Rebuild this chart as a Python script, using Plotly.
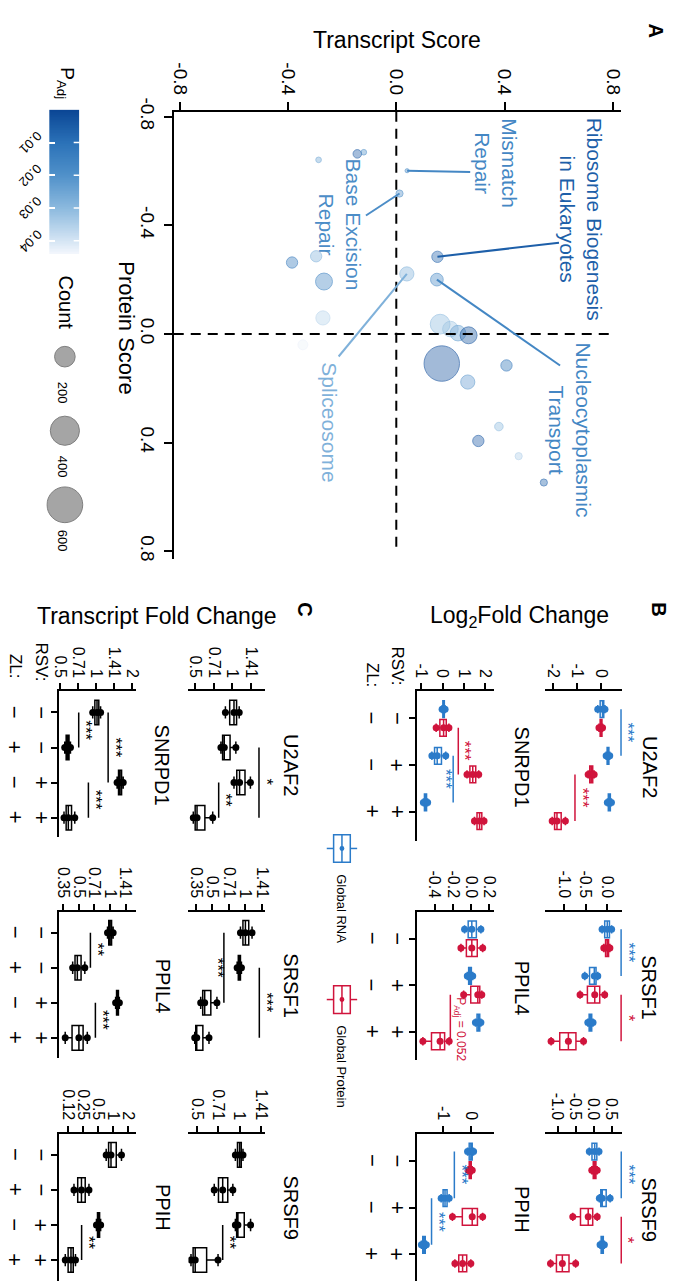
import numpy as np
import plotly.graph_objects as go

W, H = 678, 1283
FONT = "Liberation Sans, Arial, Helvetica, sans-serif"
BLUE = "#2b7bc9"
RED = "#d0143c"

# ---------------- Panel A: pathway scores ----------------
A_TRANSCRIPT = [-0.144, -0.120, -0.287, 0.040, 0.012, 0.152, -0.385, -0.296, 0.039, 0.150,
                -0.267, -0.271, 0.162, 0.200, 0.228, 0.267, -0.345, 0.168, 0.407, 0.264,
                0.379, 0.303, 0.452, 0.545]
A_PROTEIN = [-0.663, -0.669, -0.641, -0.601, -0.517, -0.284, -0.263, -0.286, -0.221, -0.200,
             -0.193, -0.059, -0.036, -0.018, -0.003, 0.005, 0.040, 0.109, 0.116, 0.177,
             0.341, 0.394, 0.450, 0.547]
A_PADJ = [0.004, 0.020, 0.025, 0.017, 0.019, 0.006, 0.012, 0.028, 0.028, 0.017,
          0.016, 0.036, 0.030, 0.032, 0.024, 0.003, 0.043, 0.002, 0.010, 0.022,
          0.030, 0.004, 0.035, 0.006]
A_COUNT = [34, 15, 15, 8, 24, 60, 60, 60, 94, 76,
           135, 94, 184, 114, 114, 135, 46, 590, 60, 94,
           34, 60, 24, 24]
A_AXIS_TICKS = [-0.8, -0.4, 0.0, 0.4, 0.8]
A_AXIS_TICKTEXT = ["-0.8", "-0.4", "0.0", "0.4", "0.8"]
A_LABEL_TEXT = ["Ribosome Biogenesis<br>in Eukaryotes", "Mismatch<br>Repair",
                "Base Excision<br>Repair", "Spliceosome", "Nucleocytoplasmic<br>Transport"]
A_LABEL_POINT = [5, 3, 4, 8, 9]
PADJ_TICKS = [0.01, 0.02, 0.03, 0.04]
COUNT_KEYS = [200, 400, 600]

# ---------------- Panel B: log2 fold change (3 replicates) ----------------
B_GENES = ["U2AF2", "SNRPD1", "SRSF1", "PPIL4", "SRSF9", "PPIH"]
B_RSV = ["−", "+", "+"]
B_ZL = ["−", "−", "+"]
U2AF2_RNA = [[-0.15, 0.05, 0.15], [0.20, 0.28, 0.35], [0.25, 0.33, 0.42]]
U2AF2_PROT = [[-0.10, 0.00, 0.05], [-0.55, -0.42, -0.30], [-2.05, -1.85, -1.50]]
SNRPD1_RNA = [[-0.02, 0.05, 0.12], [-0.50, -0.25, 0.15], [-0.90, -0.80, -0.70]]
SNRPD1_PROT = [[-0.30, 0.05, 0.30], [1.15, 1.42, 1.70], [1.50, 1.74, 1.95]]
SRSF1_RNA = [[-0.12, 0.00, 0.10], [-0.52, -0.30, -0.22], [-0.45, -0.39, -0.33]]
SRSF1_PROT = [[-0.08, 0.00, 0.06], [-0.63, -0.29, -0.06], [-1.30, -0.90, -0.55]]
PPIL4_RNA = [[-0.07, 0.01, 0.11], [-0.04, -0.01, 0.02], [0.05, 0.085, 0.11]]
PPIL4_PROT = [[-0.11, 0.01, 0.13], [-0.08, 0.076, 0.12], [-0.53, -0.34, -0.24]]
SRSF9_RNA = [[-0.12, 0.03, 0.15], [0.16, 0.24, 0.46], [0.18, 0.24, 0.30]]
SRSF9_PROT = [[-0.05, 0.03, 0.10], [-0.58, -0.15, 0.10], [-1.20, -0.87, -0.50]]
PPIH_RNA = [[-0.12, 0.00, 0.10], [-1.08, -0.94, -0.79], [-1.80, -1.70, -1.62]]
PPIH_PROT = [[-0.10, -0.02, 0.05], [-0.67, 0.05, 0.43], [-0.58, -0.30, 0.00]]
B_TICKS = [[-2, -1, 0], [-1, 0, 1, 2], [-1.0, -0.5, 0.0], [-0.4, -0.2, 0.0, 0.2],
           [-1.0, -0.5, 0.0, 0.5], [-1, 0]]
B_TICKTEXT = [["-2", "-1", "0"], ["-1", "0", "1", "2"], ["-1.0", "-0.5", "0.0"],
              ["-0.4", "-0.2", "0.0", "0.2"], ["-1.0", "-0.5", "0.0", "0.5"], ["-1", "0"]]
# (gene, series, from condition, to condition, label)
B_SIG = [("U2AF2", "rna", 1, 2, "***"), ("U2AF2", "prot", 2, 3, "***"),
         ("SNRPD1", "prot", 1, 2, "***"), ("SNRPD1", "rna", 2, 3, "***"),
         ("SRSF1", "rna", 1, 2, "***"), ("SRSF1", "prot", 2, 3, "*"),
         ("PPIL4", "prot", 2, 3, "P<sub>Adj</sub> = 0.052"),
         ("SRSF9", "rna", 1, 2, "***"), ("SRSF9", "prot", 2, 3, "*"),
         ("PPIH", "rna", 1, 2, "***"), ("PPIH", "rna", 2, 3, "***")]

# ---------------- Panel C: transcript fold change (log2, 3 replicates) ----------------
C_RSV = ["−", "−", "+", "+"]
C_ZL = ["−", "+", "−", "+"]
C_U2AF2 = [[-0.19, 0.04, 0.18], [-0.31, -0.22, 0.09], [0.04, 0.19, 0.48], [-1.05, -0.95, -0.53]]
C_SNRPD1 = [[-0.10, 0.02, 0.12], [-0.88, -0.80, -0.72], [0.58, 0.66, 0.75], [-0.90, -0.78, -0.60]]
C_SRSF1 = [[-0.15, 0.00, 0.20], [-0.25, -0.18, -0.12], [-1.35, -1.23, -0.86], [-1.53, -1.47, -1.10]]
C_PPIL4 = [[-0.08, 0.00, 0.10], [-1.20, -1.05, -0.81], [0.18, 0.24, 0.30], [-1.44, -1.00, -0.73]]
C_SRSF9 = [[-0.10, 0.00, 0.08], [-0.60, -0.40, -0.16], [-0.10, -0.04, 0.26], [-1.15, -1.05, -0.51]]
C_PPIH = [[-0.45, -0.13, 0.57], [-2.60, -2.10, -1.60], [-1.10, -0.96, -0.82], [-3.18, -2.80, -2.50]]
C_TICKS = [[-1, -0.5, 0, 0.5], [-1, -0.5, 0, 0.5, 1], [-1.5, -1, -0.5, 0, 0.5],
           [-1.5, -1, -0.5, 0, 0.5], [-1, -0.5, 0, 0.5], [-3, -2, -1, 0, 1]]
C_TICKTEXT = [["0.5", "0.71", "1", "1.41"], ["0.5", "0.71", "1", "1.41", "2"],
              ["0.35", "0.5", "0.71", "1", "1.41"], ["0.35", "0.5", "0.71", "1", "1.41"],
              ["0.5", "0.71", "1", "1.41"], ["0.12", "0.25", "0.5", "1", "2"]]
C_SIG = [("U2AF2", 3, 4, "**"), ("U2AF2", 2, 4, "*"),
         ("SNRPD1", 1, 2, "***"), ("SNRPD1", 1, 3, "***"), ("SNRPD1", 3, 4, "***"),
         ("SRSF1", 1, 3, "***"), ("SRSF1", 2, 4, "***"),
         ("PPIL4", 1, 2, "**"), ("PPIL4", 3, 4, "***"),
         ("SRSF9", 3, 4, "**"), ("PPIH", 3, 4, "**")]

B_RNA = [U2AF2_RNA, SNRPD1_RNA, SRSF1_RNA, PPIL4_RNA, SRSF9_RNA, PPIH_RNA]
B_PROT = [U2AF2_PROT, SNRPD1_PROT, SRSF1_PROT, PPIL4_PROT, SRSF9_PROT, PPIH_PROT]
C_DATA = [C_U2AF2, C_SNRPD1, C_SRSF1, C_PPIL4, C_SRSF9, C_PPIH]

# ================= layout helpers =================
def X(p):
    return p / W


def Y(p):
    return 1 - p / H


CMIN, CMAX = 0.0, 0.044
CS = [(0.0, (10, 69, 148)), (0.23, (43, 114, 184)), (0.45, (79, 144, 201)),
      (0.68, (139, 185, 222)), (0.91, (213, 229, 244)), (1.0, (244, 247, 253))]
PLOTLY_CS = [[s, "rgb(%d,%d,%d)" % c] for s, c in CS]


def cs_rgb(p):
    f = min(max((p - CMIN) / (CMAX - CMIN), 0.0), 1.0)
    stops = [s for s, _ in CS]
    return [float(np.interp(f, stops, [c[i] for _, c in CS])) for i in range(3)]


def rgba(p, a):
    r, g, b = cs_rgb(p)
    return "rgba(%d,%d,%d,%.2f)" % (r, g, b, a)


AX = dict(showgrid=False, zeroline=False, linecolor="black", linewidth=2,
          tickcolor="black", tickwidth=2, fixedrange=True)

fig = go.Figure()
annotations = []
shapes = []
layout = dict(width=W, height=H, margin=dict(l=0, r=0, t=0, b=0),
              paper_bgcolor="white", plot_bgcolor="rgba(0,0,0,0)", showlegend=False,
              font=dict(family=FONT, color="black"), boxmode="overlay", hovermode=False)


def ann(text, x, y, size, angle=0, color="black", xref="paper", yref="paper", bold=False, **kw):
    d = dict(text=("<b>%s</b>" % text) if bold else text, x=x, y=y, xref=xref, yref=yref,
             showarrow=False, textangle=angle, xanchor="center", yanchor="middle",
             font=dict(size=size, color=color, family=FONT))
    d.update(kw)
    annotations.append(d)


# ================= Panel A =================
layout["xaxis"] = dict(AX, domain=[X(170), X(626)], range=[-0.822, 0.830], side="top", anchor="y",
                       showline=True, ticks="outside", ticklen=8, tickvals=A_AXIS_TICKS,
                       ticktext=A_AXIS_TICKTEXT, tickangle=90, tickfont=dict(size=19))
layout["yaxis"] = dict(AX, domain=[Y(552), Y(99)], range=[0.829, -0.818], side="left", anchor="x",
                       showline=True, ticks="outside", ticklen=8, tickvals=A_AXIS_TICKS,
                       ticktext=A_AXIS_TICKTEXT, tickangle=90, tickfont=dict(size=19))

shapes.append(dict(type="line", xref="x", yref="y", x0=0, x1=0, y0=-0.818, y1=0.80,
                   line=dict(color="black", width=2, dash="10px,7px")))
shapes.append(dict(type="line", xref="x", yref="y", x0=-0.822, x1=0.80, y0=0, y1=0,
                   line=dict(color="black", width=2, dash="10px,7px")))

LABEL_POS = [(0.681, -0.422), (0.368, -0.629), (-0.207, -0.402), (-0.25, 0.324), (0.643, 0.353)]
LEADER_END = [(0.601, -0.336), (0.273, -0.596), (-0.112, -0.436), (-0.213, 0.083), (0.605, 0.116)]
for txt, pi, (lx, ly), (ex, ey) in zip(A_LABEL_TEXT, A_LABEL_POINT, LABEL_POS, LEADER_END):
    col = rgba(A_PADJ[pi], 1.0)
    shapes.append(dict(type="line", xref="x", yref="y", x0=A_TRANSCRIPT[pi], y0=A_PROTEIN[pi],
                       x1=ex, y1=ey, line=dict(color=col, width=2)))
    ann(txt, lx, ly, 21, angle=90, color=col, xref="x", yref="y")

fig.add_trace(go.Scatter(
    x=A_TRANSCRIPT, y=A_PROTEIN, mode="markers", xaxis="x", yaxis="y", hoverinfo="skip",
    marker=dict(size=A_COUNT, sizemode="area", sizeref=0.94,
                color=[rgba(p, 0.55) for p in A_PADJ],
                line=dict(color=[rgba(p, 0.85) for p in A_PADJ], width=1))))

ann("A", X(662), Y(17), 20, angle=90, bold=True)
ann("Transcript Score", X(398), Y(26), 23)
ann("Protein Score", X(122), Y(318), 22, angle=90)

# colour bar (P adj)
grad = np.linspace(CMIN, CMAX, 200)
fig.add_trace(go.Heatmap(z=grad[:, None], y=grad, x=[0], colorscale=PLOTLY_CS, zmin=CMIN, zmax=CMAX,
                         showscale=False, xaxis="x2", yaxis="y2", hoverinfo="skip"))
layout["xaxis2"] = dict(domain=[X(43), X(74)], range=[-0.5, 0.5], visible=False, anchor="y2",
                        fixedrange=True)
layout["yaxis2"] = dict(domain=[Y(243), Y(97)], range=[CMAX, CMIN], anchor="x2", side="left",
                        showgrid=False, zeroline=False, showline=False, ticks="inside", ticklen=6,
                        tickcolor="white", tickwidth=1.5, tickvals=PADJ_TICKS,
                        showticklabels=False, fixedrange=True)
for v in PADJ_TICKS:
    ann("%.2f" % v, X(24), v, 13, angle=135, yref="y2")
    shapes.append(dict(type="line", xref="paper", yref="y2", x0=X(68), x1=X(74), y0=v, y1=v,
                       line=dict(color="white", width=1.5)))
ann("P<sub>Adj</sub>", X(60), Y(70), 19, angle=90)

# size legend (Count)
layout["xaxis3"] = dict(domain=[X(40), X(80)], range=[0, 1], visible=False, anchor="y3", fixedrange=True)
layout["yaxis3"] = dict(domain=[Y(560), Y(320)], range=[2.84, -0.36], visible=False, anchor="x3",
                        fixedrange=True)
fig.add_trace(go.Scatter(x=[0.475] * len(COUNT_KEYS), y=list(range(len(COUNT_KEYS))), mode="markers",
                         xaxis="x3", yaxis="y3", hoverinfo="skip",
                         marker=dict(size=COUNT_KEYS, sizemode="area", sizeref=0.94, color="#7f7f7f",
                                     line=dict(color="#4a4a4a", width=1))))
for i, c in enumerate(COUNT_KEYS):
    ann(str(c), X(56), i, 13, angle=90, yref="y3", yshift=-36)
ann("Count", X(60), Y(292), 20, angle=90)

# ================= Panels B and C =================
ROW_TOP = [686, 909, 1134]
B_ROW_BOTTOM = [837, 1059, 1283]
C_ROW_BOTTOM = [833, 1057, 1283]
B_COL = {"right": (549, 627), "left": (418, 497)}
C_COL = {"right": (185, 263), "left": (53, 132)}
GRID = [(0, "right"), (0, "left"), (1, "right"), (1, "left"), (2, "right"), (2, "left")]
B_XRANGE = [[-2.33, 0.86], [-1.2, 2.44], [-1.43, 0.34], [-0.595, 0.26], [-1.34, 0.79], [-1.96, 0.86]]
C_XRANGE = [[-1.18, 0.87], [-1.04, 1.12], [-1.72, 0.59], [-1.64, 0.85], [-1.21, 0.60], [-3.6, 1.57]]
B_TOP, B_PPU = 0.42, 47.2
C_TOP, C_PPU = 0.40, 35.5
B_DODGE = {"rna": -0.2, "prot": 0.2}
B_COLOR = {"rna": BLUE, "prot": RED}
# bracket positions (value axis) and side of label
B_SIG_POS = [(0.82, 1), (-1.1, 1), (0.74, 1), (0.5, -1), (0.32, 1), (0.32, 1), (-0.227, 1),
             (0.77, 1), (0.77, 1), (-0.6, 1), (-1.43, 1)]
C_SIG_POS = [(-0.37, 1), (0.71, 1), (-0.49, 1), (0.33, 1), (-0.22, 1), (-0.65, -1), (0.42, 1),
             (-0.63, 1), (-0.47, 1), (-0.40, 1), (-2.09, 1)]

B_AX = {}
C_AX = {}
for gi, gene in enumerate(B_GENES):
    row, col = GRID[gi]
    # ---- B ----
    n = 4 + gi
    B_AX[gene] = n
    top, bot = ROW_TOP[row], B_ROW_BOTTOM[row]
    c0, c1 = B_COL[col]
    layout["xaxis%d" % n] = dict(AX, domain=[X(c0), X(c1)], range=B_XRANGE[gi], side="top",
                                 anchor="y%d" % n, showline=True, ticks="outside", ticklen=6,
                                 tickvals=B_TICKS[gi], ticktext=B_TICKTEXT[gi], tickangle=90,
                                 tickfont=dict(size=16))
    layout["yaxis%d" % n] = dict(AX, domain=[Y(bot), Y(top)],
                                 range=[B_TOP + (bot - top) / B_PPU, B_TOP], anchor="x%d" % n,
                                 showline=(col == "left"), ticks="outside" if col == "left" else "",
                                 ticklen=6, tickvals=[1, 2, 3], showticklabels=False)
    for series, data in (("rna", B_RNA[gi]), ("prot", B_PROT[gi])):
        colr = B_COLOR[series]
        for ci, vals in enumerate(data):
            pos = ci + 1 + B_DODGE[series]
            fig.add_trace(go.Box(x=vals, y=[pos] * len(vals), orientation="h", width=0.36,
                                 xaxis="x%d" % n, yaxis="y%d" % n, boxpoints="all", jitter=0,
                                 pointpos=0, quartilemethod="inclusive",
                                 fillcolor="rgba(255,255,255,0)", line=dict(color=colr, width=1.5),
                                 marker=dict(color=colr, size=7), hoverinfo="skip"))
    ann(gene, X(c1 + 28), Y(top + 77), 20, angle=90)
    if col == "left":
        for ci in range(3):
            ann(B_RSV[ci], X(398), ci + 1, 22, angle=90, yref="y%d" % n)
            ann(B_ZL[ci], X(372), ci + 1, 22, angle=90, yref="y%d" % n)
    # ---- C ----
    m = 10 + gi
    C_AX[gene] = m
    bot = C_ROW_BOTTOM[row]
    c0, c1 = C_COL[col]
    layout["xaxis%d" % m] = dict(AX, domain=[X(c0), X(c1)], range=C_XRANGE[gi], side="top",
                                 anchor="y%d" % m, showline=True, ticks="outside", ticklen=6,
                                 tickvals=C_TICKS[gi], ticktext=C_TICKTEXT[gi], tickangle=90,
                                 tickfont=dict(size=16))
    layout["yaxis%d" % m] = dict(AX, domain=[Y(bot), Y(top)],
                                 range=[C_TOP + (bot - top) / C_PPU, C_TOP], anchor="x%d" % m,
                                 showline=(col == "left"), ticks="outside" if col == "left" else "",
                                 ticklen=6, tickvals=[1, 2, 3, 4], showticklabels=False)
    for ci, vals in enumerate(C_DATA[gi]):
        fig.add_trace(go.Box(x=vals, y=[ci + 1] * len(vals), orientation="h", width=0.7,
                             xaxis="x%d" % m, yaxis="y%d" % m, boxpoints="all", jitter=0,
                             pointpos=0, quartilemethod="inclusive",
                             fillcolor="rgba(255,255,255,0)", line=dict(color="black", width=1.5),
                             marker=dict(color="black", size=7), hoverinfo="skip"))
    ann(gene, X(c1 + 27), Y(top + 75), 20, angle=90)
    if col == "left":
        for ci in range(4):
            ann(C_RSV[ci], X(35), ci + 1, 22, angle=90, yref="y%d" % m)
            ann(C_ZL[ci], X(8), ci + 1, 22, angle=90, yref="y%d" % m)

# significance brackets, panel B
for (gene, series, a, b, lab), (v, side) in zip(B_SIG, B_SIG_POS):
    n = B_AX[gene]
    colr = B_COLOR[series]
    y0, y1 = a + B_DODGE[series], b + B_DODGE[series]
    shapes.append(dict(type="line", xref="x%d" % n, yref="y%d" % n, x0=v, x1=v, y0=y0, y1=y1,
                       line=dict(color=colr, width=1.5)))
    if lab.startswith("P"):
        ann(lab, v, (y0 + y1) / 2 + 0.25, 12, angle=90, color=colr, xref="x%d" % n,
            yref="y%d" % n, xshift=10)
    else:
        ann(lab, v, (y0 + y1) / 2, 17, angle=90, color=colr, xref="x%d" % n, yref="y%d" % n,
            xshift=side * 7)

# significance brackets, panel C
for (gene, a, b, lab), (v, side) in zip(C_SIG, C_SIG_POS):
    m = C_AX[gene]
    shapes.append(dict(type="line", xref="x%d" % m, yref="y%d" % m, x0=v, x1=v, y0=a, y1=b,
                       line=dict(color="black", width=1.5)))
    ann(lab, v, (a + b) / 2, 17, angle=90, xref="x%d" % m, yref="y%d" % m, xshift=side * 7)

# headers and row labels
ann("B", X(664), Y(603), 20, angle=90, bold=True)
ann("Log<sub>2</sub>Fold Change", X(523), Y(610), 23)
ann("C", X(303), Y(603), 20, angle=90, bold=True)
ann("Transcript Fold Change", X(152), Y(610), 23)
ann("RSV:", X(398), Y(660), 17, angle=90)
ann("ZL:", X(372), Y(670), 17, angle=90)
ann("RSV:", X(35), Y(656), 17, angle=90)
ann("ZL:", X(8), Y(661), 17, angle=90)

# legend for panel B
for cy, colr, txt, ty in ((845, BLUE, "Global RNA", 906), (998, RED, "Global Protein", 1066)):
    shapes.append(dict(type="rect", xref="paper", yref="paper", x0=X(333), x1=X(350),
                       y0=Y(cy + 14), y1=Y(cy - 14), line=dict(color=colr, width=1.5)))
    shapes.append(dict(type="line", xref="paper", yref="paper", x0=X(341.5), x1=X(341.5),
                       y0=Y(cy + 14), y1=Y(cy - 14), line=dict(color=colr, width=1.5)))
    shapes.append(dict(type="line", xref="paper", yref="paper", x0=X(326), x1=X(333),
                       y0=Y(cy), y1=Y(cy), line=dict(color=colr, width=1.5)))
    shapes.append(dict(type="line", xref="paper", yref="paper", x0=X(350), x1=X(357),
                       y0=Y(cy), y1=Y(cy), line=dict(color=colr, width=1.5)))
    shapes.append(dict(type="circle", xref="paper", yref="paper", x0=X(339), x1=X(344),
                       y0=Y(cy + 2.5), y1=Y(cy - 2.5), fillcolor=colr, line=dict(width=0)))
    ann(txt, X(341), Y(ty), 13, angle=90)

layout["annotations"] = annotations
layout["shapes"] = shapes
fig.update_layout(**layout)
fig.write_html("out.html", config={"displayModeBar": False},
               post_script="document.body.style.margin='0';document.body.style.overflow='hidden';")
